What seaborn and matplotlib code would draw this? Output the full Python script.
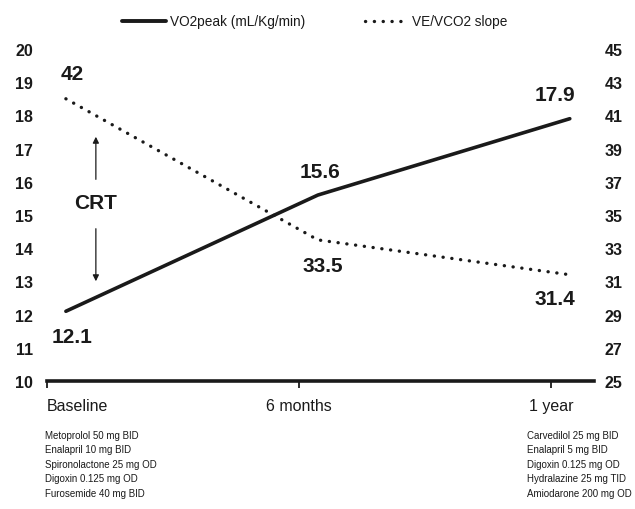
import matplotlib
matplotlib.use('Agg')
import matplotlib.pyplot as plt
from matplotlib.lines import Line2D
import numpy as np
import pandas as pd
import seaborn as sns

timepoints = ['Baseline', '6 months', '1 year']
vo2peak = [12.1, 15.6, 17.9]
ve_vco2 = [42, 33.5, 31.4]
vo2_labels = ['12.1', '15.6', '17.9']
slope_labels = ['42', '33.5', '31.4']
meds_baseline = ['Metoprolol 50 mg BID', 'Enalapril 10 mg BID', 'Spironolactone 25 mg OD',
                 'Digoxin 0.125 mg OD', 'Furosemide 40 mg BID']
meds_1year = ['Carvedilol 25 mg BID', 'Enalapril 5 mg BID', 'Digoxin 0.125 mg OD',
              'Hydralazine 25 mg TID', 'Amiodarone 200 mg OD']

df = pd.DataFrame({'pos': np.arange(len(timepoints)), 'time': timepoints,
                   'vo2': vo2peak, 'slope': ve_vco2})

sns.set_style('white')
plt.rcParams['font.family'] = ['Liberation Sans', 'DejaVu Sans']
ink = '#1a1a1a'
dots = (0, (0.05, 2.6))

fig = plt.figure(figsize=(6.35, 5.1), dpi=100)
ax = fig.add_axes([0.074, 0.251, 0.861, 0.651])
ax2 = ax.twinx()

sns.lineplot(data=df, x='pos', y='vo2', ax=ax, color=ink, lw=2.6, legend=False)
sns.lineplot(data=df, x='pos', y='slope', ax=ax2, color=ink, lw=2.4, legend=False)
ax2.lines[0].set_linestyle(dots)
ax2.lines[0].set_dash_capstyle('round')

ax.set_xlim(-0.075, 2.095)
ax.set_ylim(10, 20)
ax2.set_ylim(25, 45)
ax.set_yticks(range(10, 21))
ax2.set_yticks(range(25, 46, 2))
ax.set_xticks(df['pos'] - 0.075)
ax.set_xticklabels(timepoints, fontsize=11.5, color=ink)
ax.get_xticklabels()[0].set_horizontalalignment('left')
ax.set_xlabel('')
ax.set_ylabel('')
ax2.set_ylabel('')

for a in (ax, ax2):
    for s in a.spines.values():
        s.set_visible(False)
ax.spines['bottom'].set_visible(True)
ax.spines['bottom'].set_linewidth(2.6)
ax.spines['bottom'].set_color(ink)
ax.tick_params(axis='x', bottom=True, direction='out', length=5, width=1.3, color=ink, pad=7)
ax.tick_params(axis='y', left=False, length=0, pad=10, labelsize=11.5)
ax2.tick_params(axis='y', right=False, length=0, pad=8, labelsize=11.5)
for lab in ax.get_yticklabels() + ax2.get_yticklabels():
    lab.set_fontweight('bold')
    lab.set_color(ink)

# value labels
for x, y, t, dx, dy in zip(df['pos'], vo2peak, vo2_labels, [6, 2, -15], [-25, 24, 24]):
    ax.annotate(t, (x, y), xytext=(dx, dy), textcoords='offset pixels', ha='center', va='center',
                fontsize=15, fontweight='bold', color=ink)
for x, y, t, dx, dy in zip(df['pos'], ve_vco2, slope_labels, [6, 5, -15], [25, -26, -24]):
    ax2.annotate(t, (x, y), xytext=(dx, dy), textcoords='offset pixels', ha='center', va='center',
                 fontsize=15, fontweight='bold', color=ink)

# CRT marker with arrows
ax.text(0.119, 15.39, 'CRT', ha='center', va='center', fontsize=15, fontweight='bold', color=ink)
ax.annotate('', xy=(0.119, 17.44), xytext=(0.119, 15.99),
            arrowprops=dict(arrowstyle='-|>', color=ink, lw=0.9, mutation_scale=9))
ax.annotate('', xy=(0.119, 12.92), xytext=(0.119, 14.67),
            arrowprops=dict(arrowstyle='-|>', color=ink, lw=0.9, mutation_scale=9))

# legend
handles = [Line2D([], [], color=ink, lw=2.8),
           Line2D([], [], color=ink, lw=2.4, linestyle=dots, dash_capstyle='round')]
fig.legend(handles, ['VO2peak (mL/Kg/min)', 'VE/VCO2 slope'], loc='center',
           bbox_to_anchor=(0.496, 0.956), ncol=2, frameon=False, fontsize=9.8,
           handlelength=3.2, handletextpad=0.3, columnspacing=4.4, labelcolor=ink)

fig.text(0.071, 0.155, '\n'.join(meds_baseline), ha='left', va='top', fontsize=7.0,
         linespacing=1.55, color=ink)
fig.text(0.830, 0.155, '\n'.join(meds_1year), ha='left', va='top', fontsize=7.0,
         linespacing=1.55, color=ink)

fig.savefig('out.png', dpi=100)
